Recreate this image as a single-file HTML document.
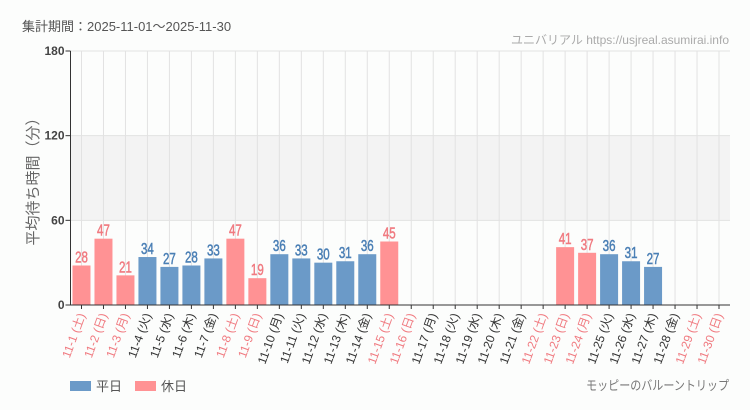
<!DOCTYPE html>
<html><head><meta charset="utf-8">
<style>
html,body{margin:0;padding:0;background:#fcfdfc;}
svg{display:block;font-family:"Liberation Sans","Noto Sans CJK JP",sans-serif;}
</style></head>
<body>
<svg id="chart" width="750" height="410">
<text x="22" y="31" font-size="13" fill="#555">集計期間：2025-11-01～2025-11-30</text>
<text x="729" y="44" font-size="12" fill="#aaa" text-anchor="end">ユニバリアル  https://usjreal.asumirai.info</text>
<g id="plot"></g>
<text transform="translate(38,178) rotate(-90)" font-size="15" fill="#666" text-anchor="middle">平均待ち時間（分）</text>
<rect x="70" y="381" width="21" height="10" fill="#6b9ac8"/>
<text x="96" y="391" font-size="13" fill="#555">平日</text>
<rect x="135" y="381" width="21" height="10" fill="#ff9294"/>
<text x="161" y="391" font-size="13" fill="#555">休日</text>
<text x="729" y="390" font-size="13" fill="#777" text-anchor="end" transform="translate(729,0) scale(0.85,1) translate(-729,0)">モッピーのバルーントリップ</text>
</svg>
<script>
const days = ["11-1 (土)","11-2 (日)","11-3 (月)","11-4 (火)","11-5 (水)","11-6 (木)","11-7 (金)","11-8 (土)","11-9 (日)","11-10 (月)","11-11 (火)","11-12 (水)","11-13 (木)","11-14 (金)","11-15 (土)","11-16 (日)","11-17 (月)","11-18 (火)","11-19 (水)","11-20 (木)","11-21 (金)","11-22 (土)","11-23 (日)","11-24 (月)","11-25 (火)","11-26 (水)","11-27 (木)","11-28 (金)","11-29 (土)","11-30 (日)"];
const values = [28,47,21,34,27,28,33,47,19,36,33,30,31,36,45,null,null,null,null,null,null,null,41,37,36,31,27,null,null,null];
const holidays = [1,1,1,0,0,0,0,1,1,0,0,0,0,0,1,1,0,0,0,0,0,1,1,1,0,0,0,0,1,1];
const yTicks = [0,60,120,180];

const X0=70.5, X1=730, Y0=305, Y1=51, YMAX=180;
const slot=(X1-X0)/days.length;
const xc=i=>X0+slot*(i+0.5);
const y=v=>Y0-(v/YMAX)*(Y0-Y1);
const NS="http://www.w3.org/2000/svg";
const g=document.getElementById('plot');
function mk(tag,attrs,parent){const e=document.createElementNS(NS,tag);for(const k in attrs)e.setAttribute(k,attrs[k]);(parent||g).appendChild(e);return e;}

let band=mk('rect',{x:X0,y:y(120),width:X1-X0,height:y(60)-y(120),fill:'#f3f3f3'});


yTicks.forEach(t=>{
  if(t>0){let l=mk('line',{x1:X0,x2:X1,y1:y(t),y2:y(t),stroke:'#e2e2e2'});
  
  }
  let tk=mk('line',{x1:X0-5,x2:X0,y1:y(t),y2:y(t),stroke:'#333'});
  
  
  let tx=mk('text',{x:X0-6,y:y(t)+4,'font-size':12,'font-weight':'bold',fill:'#444','text-anchor':'end'});
  tx.textContent=t;
  
  
});
days.forEach((d,i)=>{
  let l=mk('line',{x1:xc(i),x2:xc(i),y1:Y1,y2:Y0,stroke:'#e2e2e2'});
  
  
});
days.forEach((d,i)=>{
  const col=holidays[i]?'#ff9294':'#6b9ac8';
  const tcol=holidays[i]?'#f07a80':'#4a7fb5';
  const v=values[i];
  if(v!=null){
    let r=mk('rect',{x:xc(i)-9,y:y(v),width:18,height:Y0-y(v),fill:col});
    
    
    let t=mk('text',{x:xc(i),y:y(v)-3,'font-size':16,fill:tcol,stroke:tcol,'stroke-width':0.5,'text-anchor':'middle',transform:`translate(${xc(i)},0) scale(0.72,1) translate(${-xc(i)},0)`});
    t.textContent=v;
    
    
  }
  let tk=mk('line',{x1:xc(i),x2:xc(i),y1:Y0,y2:Y0+4,stroke:'#333'});
  
  
  let lb=mk('text',{'font-size':12,fill:holidays[i]?'#f07a80':'#333','text-anchor':'end',transform:`translate(${xc(i)+4},${Y0+10}) rotate(-70)`});
  lb.textContent=d;
  
  
});
let ax=mk('line',{x1:X0,x2:X0,y1:Y1,y2:Y0,stroke:'#333'});


let bx=mk('line',{x1:X0,x2:X1,y1:Y0,y2:Y0,stroke:'#333'});


</script>
</body></html>
